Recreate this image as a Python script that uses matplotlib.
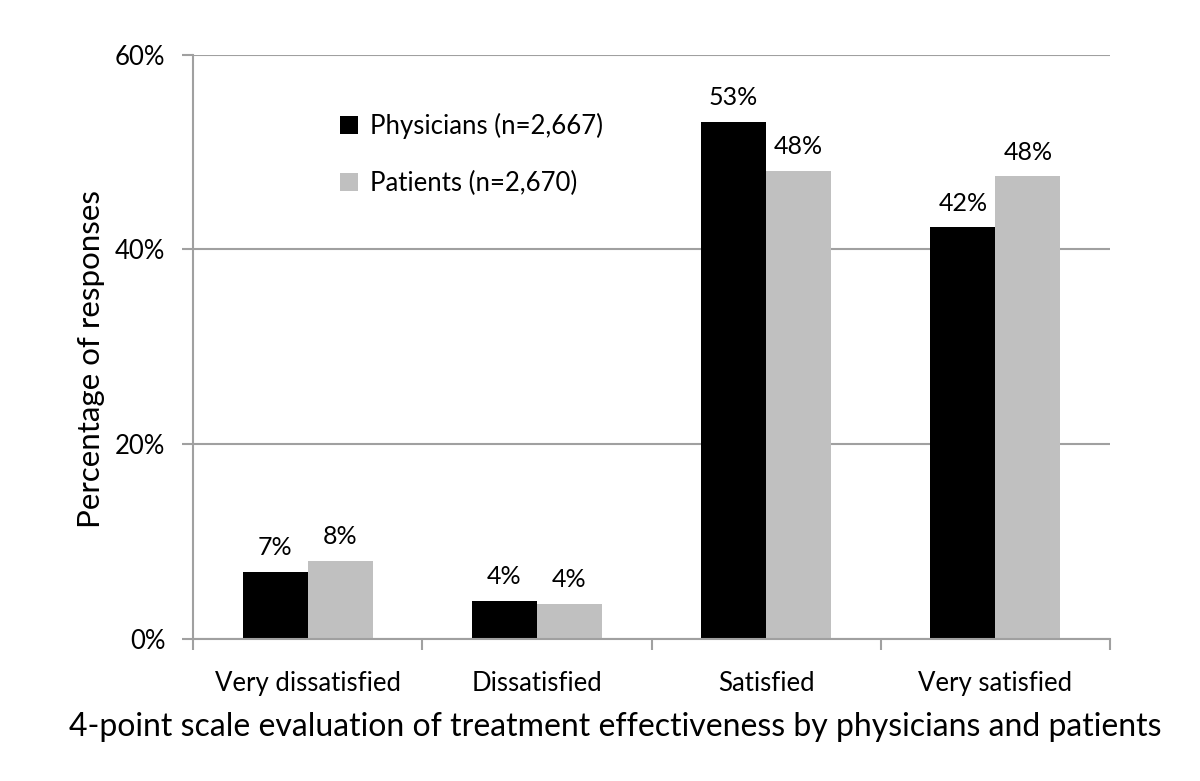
import numpy as np
import matplotlib.pyplot as plt
from matplotlib.ticker import FuncFormatter

# values (percent)
categories = ['Very dissatisfied', 'Dissatisfied', 'Satisfied', 'Very satisfied']
physicians = [6.9, 3.9, 53.1, 42.3]
patients = [8.0, 3.6, 48.1, 47.5]
phys_labels = ['7%', '4%', '53%', '42%']
pat_labels = ['8%', '4%', '48%', '48%']

plt.rcParams['font.family'] = ['Lato', 'DejaVu Sans']

fig = plt.figure(figsize=(12, 7.81), dpi=100)
ax = fig.add_axes([0.161, 0.182, 0.764, 0.748])

x = np.arange(len(categories))
w = 0.284
b1 = ax.bar(x - w/2, physicians, w, color='black', label='Physicians (n=2,667)')
b2 = ax.bar(x + w/2, patients, w, color='#c0c0c0', label='Patients (n=2,670)')

for bars, labs in [(b1, phys_labels), (b2, pat_labels)]:
    for rect, lab in zip(bars, labs):
        ax.annotate(lab, (rect.get_x() + rect.get_width()/2, rect.get_height()),
                    xytext=(0, 9), textcoords='offset points',
                    ha='center', va='bottom', fontsize=18)

ax.set_xlim(-0.5, len(categories) - 0.5)
ax.set_ylim(0, 60)
ax.set_yticks([0, 20, 40, 60])
ax.yaxis.set_major_formatter(FuncFormatter(lambda v, p: '%d%%' % v))
ax.set_xticks(x)
ax.set_xticklabels(categories)
ax.set_xticks(np.arange(-0.5, len(categories)), minor=True)
ax.tick_params(axis='x', which='major', length=0, labelsize=18.5, pad=23)
ax.tick_params(axis='x', which='minor', length=8, width=1.5, color='#a0a0a0')
ax.tick_params(axis='y', length=8, width=1.5, color='#a0a0a0', labelsize=18.5, pad=12)

ax.grid(axis='y', color='#a0a0a0', linewidth=1.5)
ax.set_axisbelow(True)
for s in ['top', 'right']:
    ax.spines[s].set_visible(False)
for s in ['left', 'bottom']:
    ax.spines[s].set_color('#a0a0a0')
    ax.spines[s].set_linewidth(1.5)

ax.set_ylabel('Percentage of responses', fontsize=22.5)
ax.yaxis.set_label_coords(-0.096, 0.479)
ax.set_xlabel('4-point scale evaluation of treatment effectiveness by physicians and patients',
              fontsize=23)
ax.xaxis.set_label_coords(0.460, -0.125)

ax.legend(loc='upper left', bbox_to_anchor=(0.135, 0.94), frameon=False, fontsize=18.5,
          handlelength=0.7, handleheight=0.7, handletextpad=0.45, labelspacing=1.25)

fig.savefig('out.png', dpi=100)
